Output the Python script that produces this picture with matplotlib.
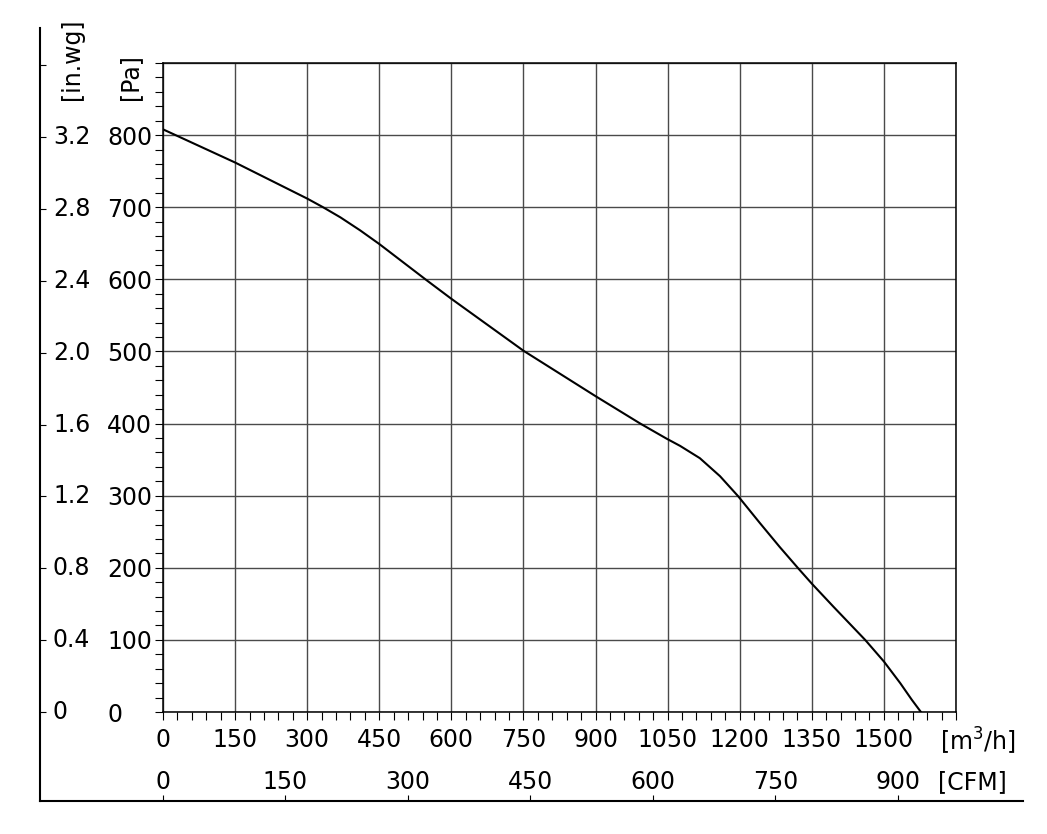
import matplotlib.pyplot as plt
from matplotlib import transforms
import numpy as np

# fan curve (m3/h, Pa)
flow_m3h = [0, 150, 300, 333, 369, 410, 450, 550, 600, 750, 900, 993, 1048,
            1076, 1117, 1159, 1197, 1242, 1283, 1322, 1350, 1395, 1461, 1500,
            1534, 1558, 1577]
pressure_pa = [808, 762, 712, 700, 686, 668, 649, 598, 573, 501, 438, 400, 379,
               369, 352, 327, 299, 262, 229, 199, 178, 146, 100, 70,
               40, 17, 0]

m3h_ticks = [0, 150, 300, 450, 600, 750, 900, 1050, 1200, 1350, 1500, 1650]
m3h_labels = ['0', '150', '300', '450', '600', '750', '900', '1050', '1200',
              '1350', '1500', '']
pa_ticks = [0, 100, 200, 300, 400, 500, 600, 700, 800, 900]
pa_labels = ['0', '100', '200', '300', '400', '500', '600', '700', '800', '']
inwg_ticks = [0, 0.4, 0.8, 1.2, 1.6, 2.0, 2.4, 2.8, 3.2, 3.6]
inwg_labels = ['0', '0.4', '0.8', '1.2', '1.6', '2.0', '2.4', '2.8', '3.2', '']
cfm_ticks = [0, 150, 300, 450, 600, 750, 900]

PA_PER_INWG = 249.09
M3H_PER_CFM = 1.699

W, H = 1047, 834
FS = 17

def fx(px):
    return px / W

def fy(py):
    return 1 - py / H

fig = plt.figure(figsize=(W / 100, H / 100), dpi=100)

# inner plot area (pixels)
L, R, T, B = 163, 956, 63, 712
ax = fig.add_axes([fx(L), fy(B), fx(R) - fx(L), fy(T) - fy(B)])
ax.set_xlim(0, 1650)
ax.set_ylim(0, 900)
ax.plot(flow_m3h, pressure_pa, color='black', lw=1.5, zorder=3)

ax.set_xticks(m3h_ticks)
ax.set_xticklabels(m3h_labels, fontsize=FS)
ax.set_xticks(np.arange(0, 1651, 30), minor=True)
ax.set_yticks(pa_ticks)
ax.set_yticklabels(pa_labels, fontsize=FS)
ax.set_yticks(np.arange(0, 901, 20), minor=True)
ax.tick_params(which='both', direction='out', length=5.8, width=0.8, color='black')
ax.tick_params(axis='x', pad=6)
ax.tick_params(axis='y', pad=34.5)
for lab in ax.get_yticklabels():
    lab.set_horizontalalignment('left')
ax.grid(True, which='major', color='#4a4a4a', lw=1.0)
for s in ax.spines.values():
    s.set_linewidth(1.1)
    s.set_color('black')

# outer axes with in.wg and CFM scales
oL, oR, oT, oB = 40, 1023, 28, 801
ax2 = fig.add_axes([fx(oL), fy(oB), fx(oR) - fx(oL), fy(oT) - fy(oB)], zorder=-1)
ax2.patch.set_alpha(0)
kx = 1650 / (R - L)
ky = 900 / (B - T)
ax2.set_xlim(-(L - oL) * kx, (oR - L) * kx)
ax2.set_ylim(-(oB - B) * ky, (B - oT) * ky)
for side in ['top', 'right']:
    ax2.spines[side].set_visible(False)
for side in ['left', 'bottom']:
    ax2.spines[side].set_linewidth(1.5)
ax2.set_yticks([v * PA_PER_INWG for v in inwg_ticks])
ax2.set_xticks([v * M3H_PER_CFM for v in cfm_ticks])
ax2.set_yticklabels([])
ax2.set_xticklabels([])
ax2.tick_params(which='both', direction='in', length=4.5, width=0.8)

ty = transforms.blended_transform_factory(ax2.transAxes, ax2.transData)
for v, lab in zip(inwg_ticks, inwg_labels):
    ax2.text((53 - oL) / (oR - oL), v * PA_PER_INWG, lab, transform=ty,
             ha='left', va='center', fontsize=FS)

tx = transforms.blended_transform_factory(ax2.transData, ax2.transAxes)
for v in cfm_ticks:
    ax2.text(v * M3H_PER_CFM, (oB - 782) / (oB - oT), str(v), transform=tx,
             ha='center', va='center', fontsize=FS)

fig.text(fx(940), fy(741), '[m$^3$/h]', ha='left', va='center', fontsize=FS)
fig.text(fx(938), fy(782), '[CFM]', ha='left', va='center', fontsize=FS)
fig.text(fx(72), fy(100), '[in.wg]', rotation=90, ha='center', va='bottom', fontsize=FS)
fig.text(fx(130), fy(100), '[Pa]', rotation=90, ha='center', va='bottom', fontsize=FS)

fig.savefig('out.png', dpi=100, facecolor='white')
